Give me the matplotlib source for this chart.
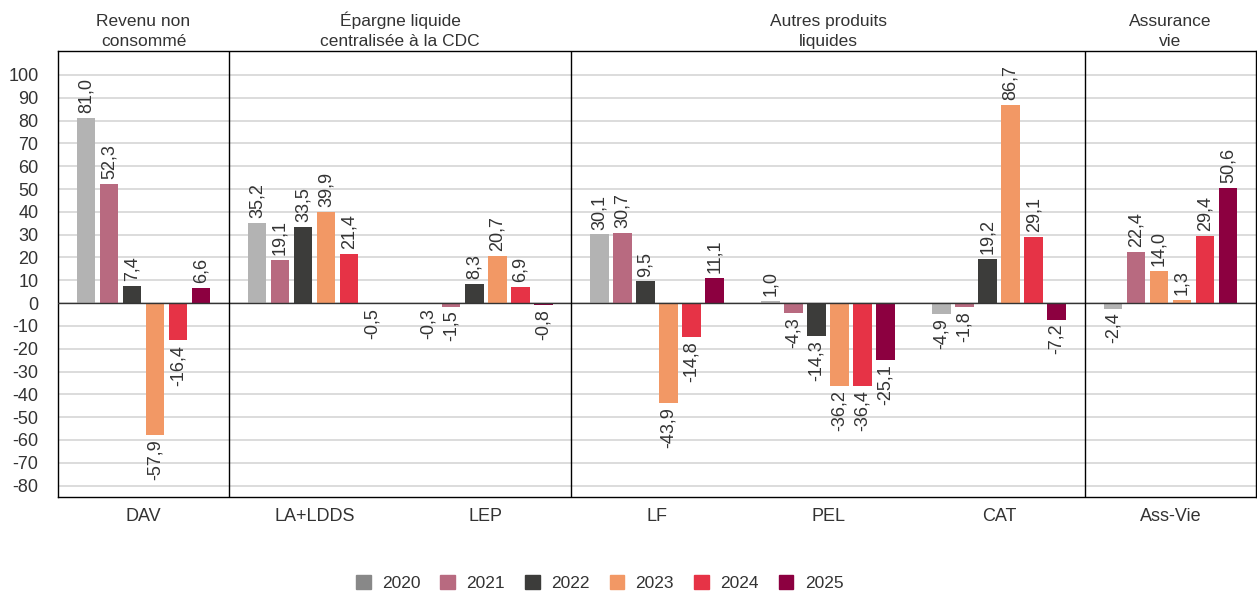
import numpy as np
import matplotlib.pyplot as plt
from matplotlib.patches import Patch

plt.rcParams['font.family'] = ['Liberation Sans', 'DejaVu Sans']

categories = ['DAV', 'LA+LDDS', 'LEP', 'LF', 'PEL', 'CAT', 'Ass-Vie']
years = ['2020', '2021', '2022', '2023', '2024', '2025']
v2020 = [81.0, 35.2, -0.3, 30.1, 1.0, -4.9, -2.4]
v2021 = [52.3, 19.1, -1.5, 30.7, -4.3, -1.8, 22.4]
v2022 = [7.4, 33.5, 8.3, 9.5, -14.3, 19.2, 14.0]
v2023 = [-57.9, 39.9, 20.7, -43.9, -36.2, 86.7, 1.3]
v2024 = [-16.4, 21.4, 6.9, -14.8, -36.4, 29.1, 29.4]
v2025 = [6.6, -0.5, -0.8, 11.1, -25.1, -7.2, 50.6]
groups = ['Revenu non\nconsommé', 'Épargne liquide\ncentralisée à la CDC',
          'Autres produits\nliquides', 'Assurance\nvie']
group_span = [(0, 0), (1, 2), (3, 5), (6, 6)]

series = [v2020, v2021, v2022, v2023, v2024, v2025]
colors = ['#b3b3b3', '#b86a80', '#3c3c3a', '#f29865', '#e63346', '#8c0040']
legend_colors = ['#888888', '#b86a80', '#3c3c3a', '#f29865', '#e63346', '#8c0040']
txt = '#333333'

fig = plt.figure(figsize=(12.57, 5.93), dpi=100)
ax = fig.add_axes([0.0461, 0.1619, 0.9530, 0.7521])

x = np.arange(len(categories))
step = 0.1345
width = 0.108
for i, vals in enumerate(series):
    pos = x + (i - 2.5) * step
    bar_cols = [colors[i]] * len(vals)
    if i == 2:
        # in the source the Ass-Vie 2022 bar is drawn in the 2023 colour
        bar_cols[6] = colors[3]
    ax.bar(pos, vals, width, color=bar_cols, zorder=2)
    for px, v in zip(pos, vals):
        lab = f'{v:.1f}'.replace('.', ',')
        if v >= 0:
            ax.annotate(lab, (px, v), xytext=(0, 3.5), textcoords='offset points',
                        rotation=90, ha='center', va='bottom', fontsize=13, color=txt)
        else:
            ax.annotate(lab, (px, v), xytext=(0, -3), textcoords='offset points',
                        rotation=90, ha='center', va='top', fontsize=13, color=txt)

ax.set_xlim(-0.5, 6.5)
ax.set_ylim(-85, 110.5)
ax.set_yticks(np.arange(-80, 101, 10))
ax.set_yticklabels([str(t) for t in range(-80, 101, 10)])
ax.set_xticks(x)
ax.set_xticklabels(categories)
ax.tick_params(length=0, labelsize=13, colors=txt)
ax.tick_params(axis='y', pad=14)
ax.tick_params(axis='x', pad=8)
ax.grid(axis='y', color='#d6d6d6', linewidth=1.2, zorder=0)
ax.axhline(0, color='#333333', linewidth=1, zorder=3)
for s in ax.spines.values():
    s.set_color('black')
    s.set_linewidth(1)

for xs in [0.5, 2.5, 5.5]:
    ax.axvline(xs, color='black', linewidth=1, zorder=3)

for g, (a, b) in zip(groups, group_span):
    ax.text((a + b) / 2, 1.005, g, transform=ax.get_xaxis_transform(),
            ha='center', va='bottom', fontsize=12.5, color=txt, linespacing=1.4)

handles = [Patch(color=c) for c in legend_colors]
fig.legend(handles, years, loc='center', bbox_to_anchor=(0.477, 0.017), ncol=6,
           frameon=False, fontsize=12.5, handlelength=0.85, handleheight=0.85,
           columnspacing=1.15, handletextpad=0.65, labelcolor=txt)

fig.savefig('out.png', dpi=100)
